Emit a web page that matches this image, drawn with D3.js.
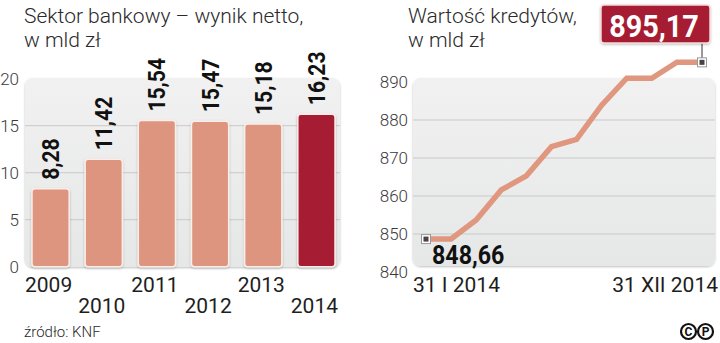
<!DOCTYPE html>
<html><head><meta charset="utf-8">
<script src="https://cdn.jsdelivr.net/npm/d3@7"></script>
<style>
html,body{margin:0;padding:0;background:#fff;}
svg{display:block;}
text{font-family:Roboto,"Noto Sans",sans-serif;}
</style></head>
<body>
<svg id="c" width="720" height="343"></svg>
<script>
// ---- data ----
const years = ["2009","2010","2011","2012","2013","2014"];
const netResult = [8.28, 11.42, 15.54, 15.47, 15.18, 16.23];
const netLabels = ["8,28","11,42","15,54","15,47","15,18","16,23"];
const leftTicks = [0,5,10,15,20];

const months = ["I","II","III","IV","V","VI","VII","VIII","IX","X","XI","XII"];
const loans = [848.66, 848.7, 853.7, 861.6, 865.3, 873.0, 874.9, 883.9, 891.0, 891.0, 895.2, 895.17];
const rightTicks = [840,850,860,870,880,890];
const firstLabel = "848,66", lastLabel = "895,17";
const dateLabels = ["31 I 2014","31 XII 2014"];

const svg = d3.select("#c");
const barColor = "#dd957f", lastColor = "#a61c31", lineColor = "#e0977f";

const defs = svg.append("defs");
const g1 = defs.append("linearGradient").attr("id","bg").attr("x1",0).attr("y1",0).attr("x2",0).attr("y2",1);
g1.append("stop").attr("offset","0%").attr("stop-color","#f1f1f1");
g1.append("stop").attr("offset","100%").attr("stop-color","#e6e7e7");
const sh = defs.append("filter").attr("id","sh").attr("x","-10%").attr("y","-10%").attr("width","120%").attr("height","130%");
sh.append("feDropShadow").attr("dx",0).attr("dy",1).attr("stdDeviation",1).attr("flood-color","#000").attr("flood-opacity",0.25);

// ---- titles ----
function title(x, lines){
  lines.forEach((t,i)=>svg.append("text").attr("x",x).attr("y",23+i*24)
    .attr("font-size",21).attr("font-weight",300).attr("fill","#2a2a2a").text(t));
}
title(24, ["Sektor bankowy – wynik netto,","w mld zł"]);
title(408, ["Wartość kredytów,","w mld zł"]);

// ---- left bar chart ----
const x = d3.scaleBand().domain(years).range([24,343]).paddingInner(0.3).paddingOuter(0.15);
const y = d3.scaleLinear().domain([0,20]).range([266.7,78.7]);

svg.append("rect").attr("x",25).attr("y",78).attr("width",315).attr("height",189).attr("rx",8)
  .attr("fill","url(#bg)").attr("filter","url(#sh)");
svg.append("g").selectAll("line").data(leftTicks.filter(d=>d>0&&d<20)).join("line")
  .attr("x1",25).attr("x2",340).attr("y1",d=>y(d)).attr("y2",d=>y(d))
  .attr("stroke","#c9c9c9").attr("stroke-width",1);

const ly = d3.axisLeft(y).tickValues(leftTicks).tickSize(0).tickPadding(0);
const lya = svg.append("g").attr("transform","translate(19,0)").call(ly);
lya.select(".domain").remove();
lya.selectAll("text").attr("font-size",17).attr("fill","#3a3a3a").attr("font-family","Roboto, sans-serif").attr("font-weight",300);

svg.append("g").selectAll("rect").data(netResult).join("rect")
  .attr("x",(d,i)=>x(years[i])).attr("width",x.bandwidth())
  .attr("y",d=>y(d)).attr("height",d=>y(0)-y(d)).attr("rx",3)
  .attr("fill",(d,i)=>i===years.length-1?lastColor:barColor)
  .attr("stroke","#fbeee9").attr("stroke-width",1.5).attr("filter","url(#sh)");

svg.append("g").selectAll("text").data(netResult).join("text")
  .attr("transform",(d,i)=>`translate(${x(years[i])+x.bandwidth()/2+8.5},${y(d)-9}) rotate(-90) scale(0.88,1)`)
  .attr("font-size",24).attr("font-weight",700).attr("fill","#111")
  .text((d,i)=>netLabels[i]);

svg.append("g").selectAll("text").data(years).join("text")
  .attr("x",d=>x(d)+x.bandwidth()/2-2).attr("y",(d,i)=>i%2===0?292:313)
  .attr("text-anchor","middle").attr("font-size",21).attr("fill","#1e1e1e").text(d=>d);

svg.append("text").attr("x",24).attr("y",337).attr("font-size",15).attr("font-weight",300)
  .attr("fill","#2a2a2a").text("źródło: KNF");

// ---- right line chart ----
const xr = d3.scalePoint().domain(months).range([426,702]);
const yr = d3.scaleLinear().domain([840,890]).range([272,82]);

svg.append("rect").attr("x",413).attr("y",78).attr("width",302).attr("height",188).attr("rx",8)
  .attr("fill","url(#bg)").attr("filter","url(#sh)");
svg.append("g").selectAll("line").data(rightTicks.filter(d=>d>840&&d<890)).join("line")
  .attr("x1",413).attr("x2",715).attr("y1",d=>yr(d)).attr("y2",d=>yr(d))
  .attr("stroke","#c9c9c9").attr("stroke-width",1);

const ry = d3.axisLeft(yr).tickValues(rightTicks).tickSize(0).tickPadding(0);
const rya = svg.append("g").attr("transform","translate(408,0)").call(ry);
rya.select(".domain").remove();
rya.selectAll("text").attr("font-size",17).attr("fill","#3a3a3a").attr("font-family","Roboto, sans-serif").attr("font-weight",300);

const line = d3.line().x((d,i)=>xr(months[i])).y(d=>yr(d));
svg.append("path").datum(loans).attr("d",line).attr("fill","none")
  .attr("stroke",lineColor).attr("stroke-width",5.5).attr("stroke-linejoin","miter");

// end label box
const lastX = xr(months[11]), lastY = yr(loans[11]);
svg.append("line").attr("x1",lastX).attr("x2",lastX).attr("y1",40).attr("y2",lastY).attr("stroke","#333").attr("stroke-width",1);
svg.append("rect").attr("x",601).attr("y",5).attr("width",109).attr("height",38).attr("rx",3)
  .attr("fill",lastColor).attr("stroke","#f4dada").attr("stroke-width",1.5).attr("filter","url(#sh)");
svg.append("text").attr("transform","translate(654,37) scale(0.9,1)").attr("text-anchor","middle")
  .attr("font-size",32).attr("font-weight",700).attr("fill","#fff").text(lastLabel);

// markers
[0,11].forEach(i=>{
  const cx = xr(months[i]), cy = yr(loans[i]);
  svg.append("rect").attr("x",cx-4.5).attr("y",cy-4.5).attr("width",9).attr("height",9)
    .attr("fill","#fff").attr("stroke","#999").attr("stroke-width",1);
  svg.append("rect").attr("x",cx-2.5).attr("y",cy-2.5).attr("width",5).attr("height",5).attr("fill","#444");
});

svg.append("text").attr("transform","translate(432,264) scale(0.93,1)")
  .attr("font-size",25).attr("font-weight",700).attr("fill","#111").text(firstLabel);

svg.append("text").attr("x",413).attr("y",292).attr("font-size",21).attr("fill","#1e1e1e").text(dateLabels[0]);
svg.append("text").attr("x",718).attr("y",292).attr("text-anchor","end").attr("font-size",21).attr("fill","#1e1e1e").text(dateLabels[1]);

// (c)(p) icon
[["C",688.5],["P",705.5]].forEach(([t,cx])=>{
  svg.append("circle").attr("cx",cx).attr("cy",331.5).attr("r",7.5).attr("fill","#fff").attr("stroke","#111").attr("stroke-width",2.2);
  svg.append("text").attr("x",cx).attr("y",336).attr("text-anchor","middle").attr("font-size",12).attr("font-weight",700).attr("fill","#111").text(t);
});
</script>
</body></html>
